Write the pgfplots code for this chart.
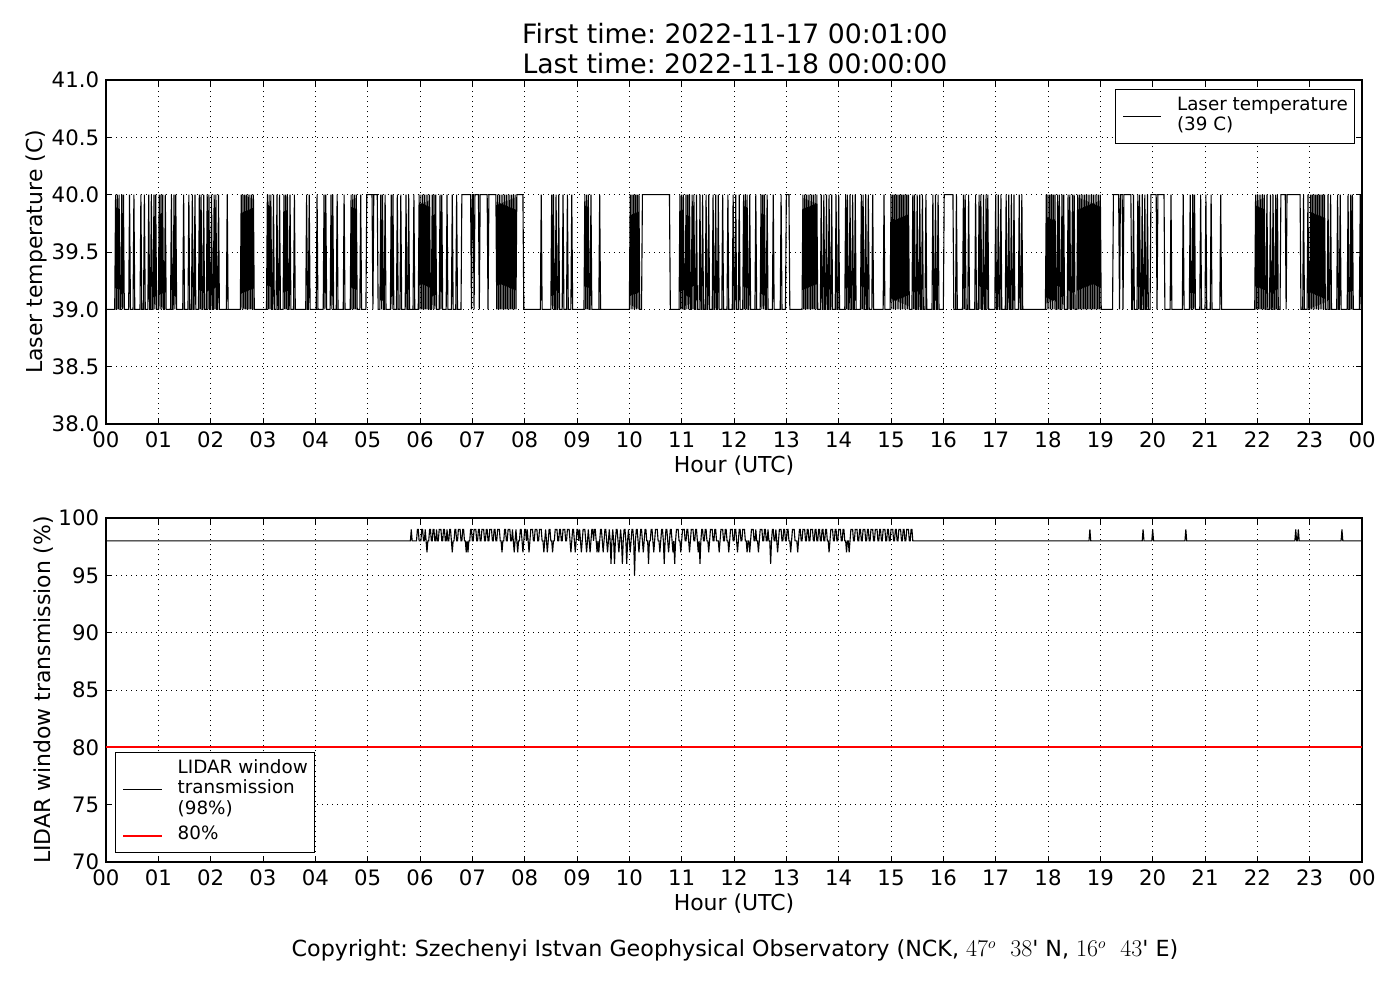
\documentclass[border=0pt]{standalone}
\usepackage{fontspec}
\setmainfont{DejaVu Sans}
\usepackage{pgfplots}
\pgfplotsset{compat=1.18}
\frenchspacing
\pgfplotsset{
  mystyle/.style={
    scale only axis, width=904.32pt, height=247.68pt,
    xmin=0, xmax=1440,
    xtick={0,60,120,180,240,300,360,420,480,540,600,660,720,780,840,900,960,1020,1080,1140,1200,1260,1320,1380,1440},
    xticklabels={00,01,02,03,04,05,06,07,08,09,10,11,12,13,14,15,16,17,18,19,20,21,22,23,00},
    grid=major,
    major grid style={black, line width=0.5pt, dash pattern=on 0.72pt off 2.9pt},
    axis line style={line width=0.9pt},
    tick style={black, line width=0.7pt},
    major tick length=4.3pt,
    tick align=inside,
    ticklabel style={font=\fontsize{15.3}{18}\selectfont, inner sep=0pt},
    xticklabel style={anchor=base, yshift=-16.8pt},
    yticklabel style={anchor=east, xshift=-4.8pt},
    label style={font=\fontsize{15.8}{19}\selectfont},
    xlabel={Hour (UTC)},
    xlabel style={at={(axis description cs:0.5,0)}, anchor=base, yshift=-35.1pt},
    legend cell align=left,
    legend style={draw=black, line width=0.7pt, font=\fontsize{13.2}{14.7}\selectfont,
      nodes={inner sep=0pt, text depth=}, inner xsep=4.8pt, inner ysep=4.8pt,
      column sep=10.8pt, row sep=4pt},
    legend image code/.code={\draw[#1] (0pt,0pt) -- (27.6pt,0pt);},
  }
}
\begin{document}
\begin{tikzpicture}
\path[use as bounding box] (0,0) rectangle (1008pt,720pt);
\node[anchor=base, font=\fontsize{19.2}{22}\selectfont] at (529.2pt,688.8pt) {First time: 2022-11-17 00:01:00};
\node[anchor=base, font=\fontsize{19.2}{22}\selectfont] at (529.2pt,667.2pt) {Last time: 2022-11-18 00:00:00};
\node[anchor=base, font=\fontsize{16}{19}\selectfont] at (529.2pt,31pt) {Copyright: Szechenyi Istvan Geophysical Observatory (NCK, $47^o$\ \ $38$\textquotesingle\ N, $16^o$\ \ $43$\textquotesingle\ E)};

\begin{axis}[mystyle, at={(76.32pt,414.72pt)}, anchor=south west,
  ymin=38, ymax=41,
  ytick={38,38.5,39,39.5,40,40.5,41},
  yticklabels={38.0,38.5,39.0,39.5,40.0,40.5,41.0},
  ylabel={Laser temperature (C)},
  ylabel style={at={(axis description cs:-0.0502,0.5)}, anchor=base},
  legend style={at={(1,1)}, anchor=north east, xshift=-5pt, yshift=-6.5pt},
]
\addplot[black, line width=0.8pt, mark=none] coordinates {
(1,39)(10,39)(11,40)(12,39)(13,40)(14,39)(15,40)(16,39)(17,39)(18,40)(19,39)(20,40)(21,39)
(26,39)(27,40)(28,39)(31,39)(32,40)(33,39)(39,39)(40,40)(41,39)(43,39)(44,40)(45,39)
(48,39)(49,40)(50,39)(51,39)(52,40)(53,39)(54,39)(55,40)(56,39)(57,40)(58,39)
(60,39)(61,40)(62,39)(63,40)(64,39)(65,40)(66,39)(67,39)(68,40)(69,39)
(74,39)(75,40)(76,39)(77,39)(78,40)(79,39)(80,40)(81,39)(88,39)(89,40)(90,39)(94,39)(95,40)(96,39)
(98,39)(99,40)(100,39)(101,39)(102,40)(103,39)(106,39)(107,40)(108,39)(109,40)(110,39)(111,39)(112,40)(113,39)
(115,39)(116,40)(117,39)(118,40)(119,39)(120,39)(121,40)(122,39)(123,39)(124,40)(125,39)(126,40)(127,39)(128,39)(129,40)(130,39)
(138,39)(139,40)(140,39)
(154,39)(155,40)(156,39)(157,40)(158,39)(159,40)(160,39)(161,40)(162,39)(163,40)(164,39)(165,40)(166,39)(167,40)(168,39)(169,40)(170,39)
(184,39)(185,40)(186,39)(187,40)(188,39)(189,40)(190,39)(191,39)(192,40)(193,39)(195,39)(196,40)(197,39)(198,39)(199,40)(200,39)
(203,39)(204,40)(205,39)(206,40)(207,39)(208,40)(209,39)(210,39)(211,40)(212,39)(215,39)(216,40)(217,39)
(229,39)(230,40)(231,39)(232,39)(233,40)(234,39)(241,39)(242,40)(243,39)(249,39)(250,40)(251,39)(252,40)(253,39)
(257,39)(258,40)(259,39)(260,40)(261,39)(264,39)(265,40)(266,39)(272,39)(273,40)(274,39)
(280,39)(281,40)(282,39)(283,40)(284,39)(285,40)(286,39)(287,40)(288,39)(291,39)(292,40)(293,39)
(298,39)(299,40)(305,40)(306,39)(307,40)(311,40)(312,39)
(314,39)(315,40)(316,39)(317,40)(318,39)(319,39)(320,40)(321,39)(326,39)(327,40)(328,39)(329,40)(330,39)
(333,39)(334,40)(335,39)(337,39)(338,40)(339,39)(343,39)(344,40)(345,39)(346,39)(347,40)(348,39)(352,39)(353,40)(354,39)
(358,39)(359,40)(360,39)(361,40)(362,39)(363,40)(364,39)(365,40)(366,39)(367,40)(368,39)(369,40)(370,39)(371,40)(372,39)(373,39)(374,40)(375,39)(376,40)(377,39)(378,40)(379,39)
(382,39)(383,40)(384,39)(385,40)(386,39)(390,39)(391,40)(392,39)(396,39)(397,40)(398,39)(401,39)(402,40)(403,39)
(407,39)(408,40)(418,40)(419,39)(420,40)(421,40)(422,39)(423,40)(427,40)(428,39)(429,40)(437,40)(438,39)(439,40)(447,40)(448,39)
(449,40)(450,39)(451,40)(452,39)(453,40)(454,39)(455,40)(456,39)(457,40)(458,39)(459,40)(460,39)(461,40)(462,39)(463,40)(464,39)(465,40)(466,39)(467,40)(468,39)(469,40)(470,39)
(471,40)(478,40)(479,39)(498,39)(499,40)(500,39)
(510,39)(511,40)(512,39)(513,40)(514,39)(515,39)(516,40)(517,39)(518,39)(519,40)(520,39)
(523,39)(524,40)(525,39)(528,39)(529,40)(530,39)(533,39)(534,40)(535,39)
(548,39)(549,40)(550,39)(551,40)(552,39)(553,40)(554,39)(555,39)(556,40)(557,39)(565,39)(566,40)(567,39)
(600,39)(601,40)(602,39)(603,40)(604,39)(605,40)(606,39)(607,40)(608,39)(609,40)(610,39)(611,40)(612,39)
(614,39)(615,40)(646,40)(647,39)
(657,39)(658,40)(659,39)(660,40)(661,39)(662,40)(663,39)(664,39)(665,40)(666,39)(667,40)(668,39)(669,40)(670,39)(671,39)(672,40)(673,39)(674,40)(675,39)(676,39)(677,40)(678,39)
(680,39)(681,40)(682,39)(683,39)(684,40)(685,39)(687,39)(688,40)(689,39)(690,39)(691,40)(692,39)
(695,39)(696,40)(697,39)(698,39)(699,40)(700,39)(701,39)(702,40)(703,39)(706,39)(707,40)(708,39)(712,39)(713,40)(714,39)
(718,39)(719,40)(720,39)(721,39)(722,40)(723,39)(725,39)(726,40)(727,39)
(730,39)(731,40)(732,39)(733,40)(734,39)(735,40)(736,39)(737,39)(738,40)(739,39)(744,39)(745,40)(746,39)
(750,39)(751,40)(752,39)(753,40)(754,39)(755,40)(756,39)(757,39)(758,40)(759,39)(764,39)(765,40)(766,39)(773,39)(774,40)(775,39)
(779,39)(780,40)(783,40)(784,39)
(798,39)(799,40)(800,39)(801,40)(802,39)(803,40)(804,39)(805,40)(806,39)(807,40)(808,39)(809,40)(810,39)(811,40)(812,39)(813,40)(814,39)(815,40)(816,39)
(819,39)(820,40)(821,39)(822,39)(823,40)(824,39)(825,39)(826,40)(827,39)(828,39)(829,40)(830,39)(831,39)(832,40)(833,39)
(836,39)(837,40)(838,39)(839,39)(840,40)(841,39)
(847,39)(848,40)(849,39)(850,40)(851,39)(852,39)(853,40)(854,39)(855,39)(856,40)(857,39)(858,39)(859,40)(860,39)
(865,39)(866,40)(867,39)(868,40)(869,39)(870,39)(871,40)(872,39)(873,39)(874,40)(875,39)(878,39)(879,40)(880,39)(891,39)(892,40)(893,39)
(899,39)(900,40)(901,39)(902,40)(903,39)(904,40)(905,39)(906,40)(907,39)(908,40)(909,39)(910,40)(911,39)(912,40)(913,39)(914,40)(915,39)(916,40)(917,39)(918,40)(919,39)(920,40)(921,39)
(924,39)(925,40)(926,39)(927,40)(928,39)(929,39)(930,40)(931,39)(932,39)(933,40)(934,39)(935,39)(936,40)(937,39)(939,39)(940,40)(941,39)
(947,39)(948,40)(949,39)(950,39)(951,40)(952,39)(953,39)(954,40)(955,39)
(960,39)(961,40)(971,40)(972,39)(974,39)(975,40)(976,39)(982,39)(983,40)(984,39)(985,40)(986,39)(988,39)(989,40)(990,39)(996,39)(997,40)(998,39)
(1000,39)(1001,40)(1002,39)(1003,40)(1004,39)(1005,39)(1006,40)(1007,39)(1008,39)(1009,40)(1010,39)(1011,40)(1012,39)
(1019,39)(1020,40)(1021,39)(1022,39)(1023,40)(1024,39)(1025,39)(1026,40)(1027,39)
(1031,39)(1032,40)(1033,39)(1034,39)(1035,40)(1036,39)(1037,39)(1038,40)(1039,39)(1040,39)(1041,40)(1042,39)
(1046,39)(1047,40)(1048,39)(1049,39)(1050,40)(1051,39)
(1077,39)(1078,40)(1079,39)(1080,40)(1081,39)(1082,40)(1083,39)(1084,40)(1085,39)(1086,40)(1087,39)(1088,40)(1089,39)
(1090,39)(1091,40)(1092,39)(1093,40)(1094,39)(1095,39)(1096,40)(1097,39)(1098,40)(1099,39)
(1102,39)(1103,40)(1104,39)(1105,40)(1106,39)(1107,39)(1108,40)(1109,39)(1110,40)(1111,39)
(1113,39)(1114,40)(1115,39)(1116,40)(1117,39)(1118,40)(1119,39)(1120,40)(1121,39)(1122,40)(1123,39)(1124,40)(1125,39)(1126,40)(1127,39)(1128,40)(1129,39)(1130,40)(1131,39)(1132,40)(1133,39)(1134,40)(1135,39)(1136,40)(1137,39)(1138,40)(1139,39)(1140,40)(1141,39)
(1154,39)(1155,40)(1161,40)(1162,39)(1163,40)(1165,40)(1166,39)(1167,40)(1175,40)(1176,39)(1177,39)(1178,40)(1179,39)
(1182,39)(1183,40)(1184,39)(1185,40)(1186,39)(1187,39)(1188,40)(1189,39)(1190,39)(1191,40)(1192,39)(1193,39)(1194,40)(1195,39)
(1197,39)(1198,40)(1204,40)(1205,39)(1206,40)(1213,40)(1214,39)
(1220,39)(1221,40)(1222,39)(1234,39)(1235,40)(1236,39)(1242,39)(1243,40)(1244,39)(1245,39)(1246,40)(1247,39)(1248,40)(1249,39)
(1254,39)(1255,40)(1256,39)(1260,39)(1261,40)(1262,39)(1266,39)(1267,40)(1268,39)(1277,39)(1278,40)(1279,39)
(1317,39)(1318,40)(1319,39)(1320,40)(1321,39)(1322,40)(1323,39)(1324,40)(1325,39)(1326,40)(1327,39)(1328,40)(1329,39)(1330,39)(1331,40)(1332,39)
(1334,39)(1335,40)(1336,39)(1337,39)(1338,40)(1339,39)(1340,39)(1341,40)(1342,39)(1343,40)(1344,39)
(1346,39)(1347,40)(1352,40)(1353,39)(1354,40)(1369,40)(1370,39)
(1372,39)(1373,40)(1374,39)(1377,39)(1378,40)(1379,39)(1380,39)(1381,40)(1382,39)
(1383,40)(1384,39)(1385,40)(1386,39)(1387,40)(1388,39)(1389,40)(1390,39)(1391,40)(1392,39)(1393,40)(1394,39)(1395,40)(1396,39)(1397,40)(1398,39)
(1400,39)(1401,40)(1402,39)(1403,39)(1404,40)(1405,39)(1411,39)(1412,40)(1413,39)(1414,39)(1415,40)(1416,39)
(1423,39)(1424,40)(1425,39)(1426,39)(1427,40)(1428,39)(1429,40)(1430,39)(1437,39)(1438,40)(1439,39)(1440,39)
};
\addlegendentry{\begin{tabular}{@{}l@{}}Laser temperature\\(39 C)\end{tabular}}
\end{axis}

\begin{axis}[mystyle, at={(76.32pt,99.36pt)}, anchor=south west,
  ymin=70, ymax=100,
  ytick={70,75,80,85,90,95,100},
  yticklabels={70,75,80,85,90,95,100},
  ylabel={LIDAR window transmission (\%)},
  ylabel style={at={(axis description cs:-0.0438,0.5)}, anchor=base},
  legend style={at={(0,0)}, anchor=south west, xshift=6.5pt, yshift=6.3pt},
]
\addplot[black, line width=0.8pt, mark=none] coordinates {
(1,98)(349,98)(350,99)(351,98)(356,98)(357,99)(358,99)(359,98)(361,98)(362,99)(363,99)(364,98)(365,98)(366,99)(367,98)(368,97)(369,98)
(370,98)(371,99)(372,99)(373,98)(374,98)(375,99)(376,99)(377,98)(378,98)(379,99)(380,98)(381,98)(382,99)(384,99)(385,98)
(386,98)(387,99)(388,99)(389,98)(390,98)(391,99)(392,98)(393,98)(394,99)(395,99)(396,98)(397,97)(398,98)
(399,98)(400,99)(401,99)(402,98)(403,98)(404,99)(406,99)(407,98)(408,98)(409,99)(410,99)(411,98)(412,98)(413,97)(414,98)(415,97)(416,98)
(417,98)(418,99)(419,99)(420,98)(421,98)(422,99)(424,99)(425,98)(426,98)(427,99)(428,99)(429,98)(430,98)(431,99)(433,99)(434,98)
(435,98)(436,99)(437,99)(438,98)(439,98)(440,99)(442,99)(443,98)(444,98)(445,99)(446,99)(447,98)(448,98)(449,99)(451,99)(452,98)
(453,98)(454,97)(455,98)(456,98)(457,99)(458,99)(459,98)(460,98)(461,99)(463,99)(464,98)(465,98)(466,99)(467,98)(468,97)(469,98)
(470,99)(471,98)(472,97)(473,98)(474,98)(475,99)(476,99)(477,98)(478,97)(479,98)(480,99)(481,99)(482,98)(483,99)(484,98)(485,97)(486,98)
(487,99)(489,99)(490,98)(491,98)(492,99)(494,99)(495,98)(496,98)(497,99)(499,99)(500,98)(501,98)(502,97)(503,98)(504,99)(505,98)(506,97)(507,98)
(508,99)(509,99)(510,98)(511,98)(512,97)(513,98)(514,98)(515,99)(517,99)(518,98)(519,98)(520,99)(521,99)(522,98)(523,98)(524,99)(526,99)(527,98)
(528,98)(529,99)(531,99)(532,98)(533,97)(534,98)(535,99)(536,99)(537,98)(538,97)(539,98)(540,99)(541,99)(542,98)(543,99)(544,98)(545,97)(546,98)
(547,99)(549,99)(550,98)(551,97)(552,98)(553,99)(554,98)(555,97)(556,98)(557,99)(558,99)(559,98)(560,99)(561,99)(562,98)(563,97)(564,98)(565,97)(566,98)
(567,99)(568,99)(569,98)(570,97)(571,98)(572,99)(573,99)(574,98)(575,97)(576,98)(577,99)(578,98)(579,96)(580,98)(581,99)(582,98)(583,96)(584,98)
(585,99)(586,99)(587,98)(588,97)(589,98)(590,99)(591,98)(592,96)(593,98)(594,99)(595,99)(596,98)(597,96)(598,98)(599,99)(600,98)(601,97)(602,98)
(603,99)(604,99)(605,98)(606,95)(607,98)(608,99)(609,99)(610,98)(611,97)(612,98)(613,99)(614,99)(615,98)(616,97)(617,98)(618,99)(619,99)(620,98)
(621,98)(622,96)(623,98)(624,98)(625,99)(626,99)(627,98)(628,97)(629,98)(630,99)(632,99)(633,98)(634,98)(635,97)(636,98)(637,99)(638,99)(639,98)
(640,96)(641,98)(642,99)(643,99)(644,98)(645,97)(646,98)(647,99)(648,99)(649,98)(650,97)(651,98)(652,96)(653,98)(654,99)(656,99)(657,98)
(658,98)(659,97)(660,98)(661,99)(663,99)(664,98)(665,98)(666,99)(667,99)(668,98)(669,97)(670,98)(671,99)(673,99)(674,98)(675,98)(676,99)(677,99)(678,98)
(679,97)(680,98)(681,96)(682,98)(683,99)(684,99)(685,98)(686,98)(687,99)(688,99)(689,98)(690,98)(691,97)(692,98)(693,99)(695,99)(696,98)
(697,98)(698,99)(699,99)(700,98)(702,98)(703,97)(704,98)(705,99)(707,99)(708,98)(709,98)(710,99)(711,99)(712,98)(713,98)(714,97)(715,98)
(716,99)(718,99)(719,98)(720,98)(721,99)(722,99)(723,98)(724,97)(725,98)(726,99)(727,99)(728,98)(729,98)(730,99)(732,99)(733,98)
(734,98)(735,97)(736,98)(737,98)(738,97)(739,98)(740,99)(742,99)(743,98)(744,98)(745,99)(746,98)(747,98)(748,97)(749,98)(750,99)(752,99)(753,98)
(754,98)(755,99)(756,99)(757,98)(758,98)(759,99)(760,98)(761,98)(762,96)(763,98)(764,99)(765,99)(766,98)(767,98)(768,99)(769,98)(770,97)(771,98)
(772,99)(774,99)(775,98)(776,98)(777,99)(778,99)(779,98)(780,98)(781,99)(782,99)(783,98)(784,98)(785,97)(786,98)(787,99)(789,99)(790,98)
(792,98)(793,97)(794,98)(795,99)(796,99)(797,98)(798,98)(799,99)(801,99)(802,98)(803,98)(804,99)(805,99)(806,98)(807,98)(808,99)(810,99)(811,98)
(812,98)(813,99)(814,99)(815,98)(816,98)(817,99)(818,99)(819,98)(820,98)(821,99)(822,99)(823,98)(824,98)(825,99)(826,99)(827,98)
(828,98)(829,97)(830,98)(831,99)(833,99)(834,98)(835,98)(836,99)(837,99)(838,98)(839,98)(840,99)(842,99)(843,98)(844,98)(845,99)(846,99)(847,98)
(848,98)(849,97)(850,98)(851,98)(852,97)(853,98)(854,99)(856,99)(857,98)(858,98)(859,99)(861,99)(862,98)(863,98)(864,99)(865,99)(866,98)
(867,98)(868,99)(870,99)(871,98)(872,98)(873,99)(874,99)(875,98)(876,98)(877,99)(879,99)(880,98)(881,98)(882,99)(884,99)(885,98)
(886,98)(887,99)(888,99)(889,98)(890,98)(891,99)(893,99)(894,98)(895,98)(896,99)(897,99)(898,98)(899,98)(900,99)(902,99)(903,98)
(904,98)(905,99)(906,99)(907,98)(908,98)(909,99)(911,99)(912,98)(913,98)(914,99)(915,99)(916,98)(917,98)(918,99)(920,99)(921,98)
(922,98)(923,99)(924,99)(925,98)
(1127,98)(1128,99)(1129,98)(1188,98)(1189,99)(1190,98)(1199,98)(1200,99)(1201,98)(1237,98)(1238,99)(1239,98)
(1363,98)(1364,99)(1365,98)(1366,98)(1367,99)(1368,98)(1416,98)(1417,99)(1418,98)(1440,98)
};
\addlegendentry{\begin{tabular}{@{}l@{}}LIDAR window\\transmission\\(98\%)\end{tabular}}
\addplot[red, line width=1.6pt, mark=none] coordinates {(0,80)(1440,80)};
\addlegendentry{\begin{tabular}{@{}l@{}}80\%\end{tabular}}
\end{axis}
\end{tikzpicture}
\end{document}
